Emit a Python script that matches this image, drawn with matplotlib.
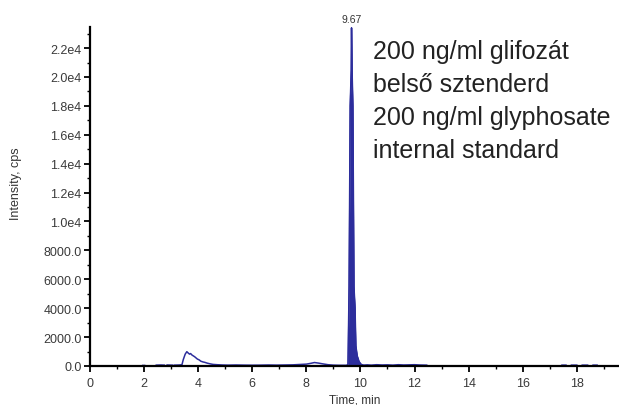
import numpy as np
import matplotlib
matplotlib.use("Agg")
import matplotlib.pyplot as plt
from matplotlib.ticker import MultipleLocator, FixedLocator

# chromatogram trace (time in min, intensity in cps), nan = gap in the trace
time = [1.95, 2.02, np.nan, 2.45, 2.62, 2.75, np.nan, 2.85, 3.05, np.nan, 3.12, 3.30, 3.40,
        3.45, 3.52, 3.58, 3.63, 3.68, 3.72, 3.77, 3.82, 3.87, 3.92, 3.97, 4.03, 4.10,
        4.18, 4.25, 4.33, 4.44, 4.55, 4.70, 4.90, 5.10, 5.40, 5.70, 6.00, 6.30, 6.60,
        6.90, 7.20, 7.50, 7.80, 8.00, 8.15, 8.30, 8.45, 8.60, 8.80, 9.00, 9.20, 9.40,
        9.50, 9.54,
        9.55, 9.58, 9.62, 9.66, 9.67, 9.69, 9.72, 9.76, 9.80, 9.83, 9.88, 9.95,
        10.02, 10.10, 10.25, 10.40, 10.60, 10.80, 11.00, 11.20, 11.40, 11.60, 11.80,
        12.00, 12.20, 12.45, np.nan, 17.45, 17.60, np.nan, 17.80, 18.00, np.nan,
        18.20, 18.40, np.nan, 18.60, 18.75]
intensity = [40, 40, np.nan, 60, 70, 60, np.nan, 70, 60, np.nan, 60, 70, 90,
             450, 820, 990, 900, 820, 860, 760, 700, 640, 560, 480, 430, 330,
             280, 250, 200, 150, 110, 90, 70, 60, 70, 60, 55, 60, 70,
             60, 70, 80, 110, 130, 180, 240, 200, 150, 90, 60, 50, 50,
             50, 120,
             1400, 5500, 18000, 20500, 23400, 20500, 18000, 5500, 4000, 1400, 700, 300,
             120, 60, 80, 60, 90, 70, 80, 60, 90, 70, 80,
             90, 70, 60, np.nan, 60, 60, np.nan, 60, 60, np.nan,
             60, 60, np.nan, 60, 60]

# peak region that is drawn filled
peak_time = [9.50, 9.54, 9.55, 9.58, 9.62, 9.66, 9.67, 9.69, 9.72, 9.76, 9.80, 9.83,
             9.88, 9.95, 10.02, 10.10]
peak_int = [50, 120, 1400, 5500, 18000, 20500, 23400, 20500, 18000, 5500, 4000, 1400,
            700, 300, 120, 60]

apex_rt = 9.67
apex_label = "9.67"

y_ticks = [0, 2000, 4000, 6000, 8000, 10000, 12000, 14000, 16000, 18000, 20000, 22000]
y_tick_labels = ["0.0", "2000.0", "4000.0", "6000.0", "8000.0", "1.0e4", "1.2e4",
                 "1.4e4", "1.6e4", "1.8e4", "2.0e4", "2.2e4"]
x_ticks = [0, 2, 4, 6, 8, 10, 12, 14, 16, 18]

legend_lines = ["200 ng/ml glifozát", "belső sztenderd",
                "200 ng/ml glyphosate", "internal standard"]

blue = "#2c2d9c"

plt.rcParams["font.family"] = ["Liberation Sans", "DejaVu Sans"]

fig = plt.figure(figsize=(6.19, 4.06), dpi=100)
ax = fig.add_axes([90 / 619, 39 / 406, 529 / 619, 339 / 406])

ax.plot(time, intensity, color=blue, lw=1.1)
ax.fill_between(peak_time, 0, peak_int, color=blue, lw=0)
ax.plot(peak_time, peak_int, color=blue, lw=0.8)

ax.set_xlim(0, 19.56)
ax.set_ylim(0, 23460)

ax.spines["top"].set_visible(False)
ax.spines["right"].set_visible(False)
ax.spines["left"].set_linewidth(1.6)
ax.spines["bottom"].set_linewidth(1.6)

ax.xaxis.set_major_locator(FixedLocator(x_ticks))
ax.xaxis.set_minor_locator(MultipleLocator(1))
ax.yaxis.set_major_locator(FixedLocator(y_ticks))
ax.set_yticklabels(y_tick_labels)
ax.yaxis.set_minor_locator(MultipleLocator(1000))
ax.tick_params(which="major", length=4, width=1.3, labelsize=9, labelcolor="#3a3a3a", pad=2)
ax.tick_params(axis="x", which="major", pad=4)
ax.tick_params(which="minor", length=2, width=1.0)

ax.set_xlabel("Time, min", fontsize=8.5, color="#333333", labelpad=3)
ax.set_ylabel("Intensity, cps", fontsize=9, color="#333333")
ax.yaxis.set_label_coords(-0.128, 0.54)

ax.text(apex_rt, 23700, apex_label, ha="center", va="bottom", fontsize=7.5,
        color="#333333", clip_on=False)

for i, line in enumerate(legend_lines):
    fig.text(373 / 619, 1 - (52 + 33 * i) / 406, line, fontsize=18, color="#222222",
             ha="left", va="center")

fig.savefig("out.png", dpi=100)
